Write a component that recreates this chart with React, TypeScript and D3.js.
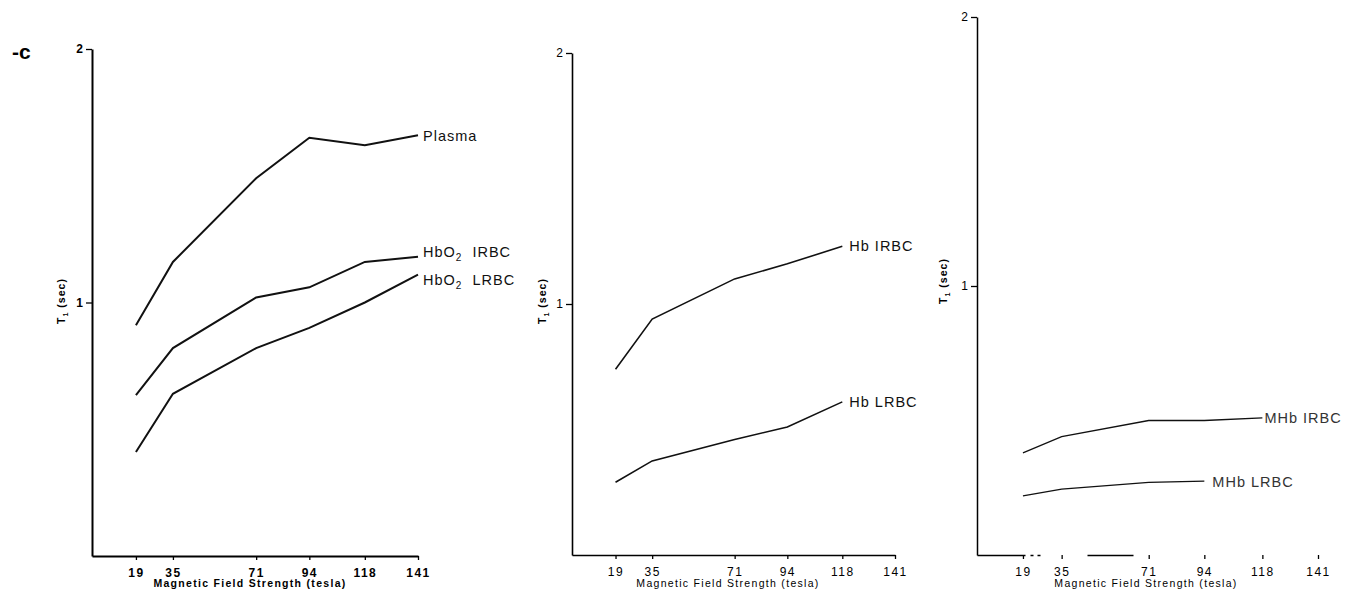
import React, { useEffect, useRef } from "react";
import * as d3 from "d3";

// field strengths (x axis ticks)
const fieldTicks = [19, 35, 71, 94, 118, 141];
const yTicks = [1, 2];

// panel 1 – oxygenated
const plasma = [0.91, 1.16, 1.49, 1.65, 1.62, 1.66];
const hbo2Irbc = [0.635, 0.82, 1.02, 1.06, 1.16, 1.18];
const hbo2Lrbc = [0.41, 0.64, 0.82, 0.9, 1.0, 1.11];

// panel 2 – deoxygenated
const hbIrbc = [0.74, 0.94, 1.1, 1.16, 1.23];
const hbLrbc = [0.29, 0.375, 0.46, 0.51, 0.61];

// panel 3 – methemoglobin
const mhbIrbc = [0.38, 0.44, 0.5, 0.5, 0.51];
const mhbLrbc = [0.22, 0.245, 0.27, 0.275];

type Series = { name: string; sub?: string; rest?: string; values: number[]; dy: number; dx: number };

const panels = [
  {
    xRange: [92, 418], yRange: [556, 49], lineW: 2, axisW: 2, bold: true, labelX: 61,
    titleX: 250, xDash: null as string | null,
    series: [
      { name: "Plasma", values: plasma, dy: 1, dx: 5 },
      { name: "HbO", sub: "2", rest: "  IRBC", values: hbo2Irbc, dy: -5, dx: 5 },
      { name: "HbO", sub: "2", rest: "  LRBC", values: hbo2Lrbc, dy: 5, dx: 5 },
    ] as Series[],
  },
  {
    xRange: [572, 895], yRange: [555, 53], lineW: 1.6, axisW: 1.6, bold: false, labelX: 542,
    titleX: 728, xDash: null,
    series: [
      { name: "Hb IRBC", values: hbIrbc, dy: 0, dx: 7 },
      { name: "Hb LRBC", values: hbLrbc, dy: 0, dx: 7 },
    ] as Series[],
  },
  {
    xRange: [977, 1318], yRange: [555, 17], lineW: 1.3, axisW: 1.5, bold: false, labelX: 943,
    titleX: 1146, xDash: "48,5,3,4,3,47,46,1000",
    series: [
      { name: "MHb IRBC", values: mhbIrbc, dy: 0, dx: 2 },
      { name: "MHb LRBC", values: mhbLrbc, dy: 1, dx: 8 },
    ] as Series[],
  },
];

const FONT = "'Liberation Sans', Arial, sans-serif";

export default function App() {
  const ref = useRef<SVGSVGElement | null>(null);

  useEffect(() => {
    const svg = d3.select(ref.current);
    svg.selectAll("*").remove();

    svg
      .append("text")
      .attr("x", 12)
      .attr("y", 59)
      .attr("font-family", FONT)
      .attr("font-size", 21)
      .attr("font-weight", "bold")
      .text("-c");

    panels.forEach((p, pi) => {
      const g = svg.append("g");
      const x = d3.scaleLinear().domain([0, 141]).range(p.xRange);
      const y = d3.scaleLinear().domain([0, 2]).range(p.yRange);

      // y axis
      const ya = g
        .append("g")
        .attr("transform", `translate(${x(0)},0)`)
        .call(d3.axisLeft(y).tickValues(yTicks).tickSize(6).tickSizeOuter(0).tickPadding(3).tickFormat(d3.format("d")));
      ya.select(".domain").attr("stroke-width", p.axisW);
      ya.selectAll(".tick line").attr("stroke-width", 1.3);
      ya.selectAll("text").attr("font-family", FONT).attr("font-size", 12).attr("font-weight", p.bold ? "bold" : "normal");

      // x axis
      const xa = g
        .append("g")
        .attr("transform", `translate(0,${y(0)})`)
        .call(d3.axisBottom(x).tickValues(fieldTicks).tickSize(4).tickSizeOuter(0).tickPadding(8));
      xa.select(".domain").attr("stroke-width", p.axisW);
      if (p.xDash) xa.select(".domain").attr("stroke-dasharray", p.xDash);
      xa.selectAll(".tick line").attr("stroke-width", 1.3);
      xa.selectAll("text")
        .attr("font-family", FONT)
        .attr("font-size", 12)
        .attr("letter-spacing", 1.5)
        .attr("font-weight", p.bold ? "bold" : "normal");

      // axis titles
      g.append("text")
        .attr("x", p.titleX)
        .attr("y", 587)
        .attr("text-anchor", "middle")
        .attr("font-family", FONT)
        .attr("font-size", 10.5)
        .attr("letter-spacing", 1.3)
        .attr("font-weight", p.bold ? "bold" : "normal")
        .text("Magnetic Field Strength (tesla)");

      const yMid = pi === 2 ? 281 : 301;
      const yl = g
        .append("text")
        .attr("transform", `translate(${p.labelX + 4},${yMid}) rotate(-90)`)
        .attr("text-anchor", "middle")
        .attr("font-family", FONT)
        .attr("font-size", 10.5)
        .attr("font-weight", "bold")
        .attr("letter-spacing", 1);
      yl.append("tspan").text("T");
      yl.append("tspan").attr("font-size", 7).attr("dy", 3).text("1");
      yl.append("tspan").attr("dy", -3).text("  (sec)");

      // lines
      const line = d3
        .line<number>()
        .x((_, i) => x(fieldTicks[i]))
        .y((d) => y(d));

      p.series.forEach((s) => {
        g.append("path")
          .datum(s.values)
          .attr("fill", "none")
          .attr("stroke", "#111")
          .attr("stroke-width", p.lineW)
          .attr("stroke-linejoin", "miter")
          .attr("d", line);

        const last = s.values.length - 1;
        const t = g
          .append("text")
          .attr("x", x(fieldTicks[last]) + s.dx)
          .attr("y", y(s.values[last]) + s.dy + 5)
          .attr("font-family", FONT)
          .attr("font-size", 14.5)
          .attr("letter-spacing", 1)
          .attr("xml:space", "preserve")
          .style("white-space", "pre")
          .attr("fill", pi === 2 ? "#333" : "#111");
        t.append("tspan").text(s.name);
        if (s.sub) {
          t.append("tspan").attr("font-size", 10).attr("dy", 4).text(s.sub);
          t.append("tspan").attr("dy", -4).text(s.rest || "");
        }
      });
    });
  }, []);

  return (
    <svg
      ref={ref}
      width={1349}
      height={592}
      style={{ position: "absolute", left: 0, top: 0, background: "#fff" }}
    />
  );
}
